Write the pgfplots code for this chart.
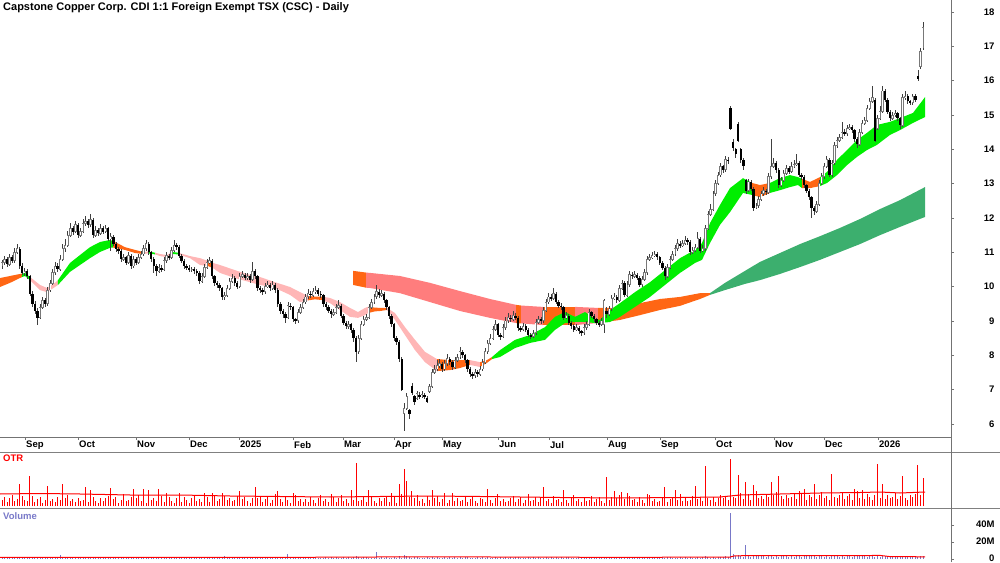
\documentclass[border=0pt]{standalone}
\usepackage{pgfplots}
\pgfplotsset{compat=1.18}
\usepackage{pgfplotstable}
\usepackage{fontspec}
\setmainfont{Liberation Sans}
\definecolor{fgreen}{RGB}{0,238,0}
\definecolor{forange}{RGB}{255,102,20}
\definecolor{fpink}{RGB}{255,182,182}
\definecolor{ssalmon}{RGB}{255,125,125}
\definecolor{sdgreen}{RGB}{60,175,110}
\definecolor{otrred}{RGB}{255,0,0}
\definecolor{volblue}{RGB}{120,120,200}
\definecolor{cgray}{RGB}{120,120,120}
\newcommand\lab{\fontsize{9.5}{10}\selectfont\bfseries}

\pgfplotstableread{
i o h l c t v
0 10.60 10.78 10.52 10.70 6 1.5
1 10.70 10.90 10.64 10.80 9 2.0
2 10.80 10.86 10.58 10.65 4 1.2
3 10.65 10.95 10.60 10.85 8 1.8
4 10.85 10.92 10.68 10.75 11 2.4
5 10.75 11.12 10.70 11.00 5 1.3
6 11.00 11.25 10.95 11.10 7 1.7
7 11.10 11.15 10.52 10.60 22 1.1
8 10.60 10.68 10.34 10.40 10 2.2
9 10.40 10.55 10.30 10.45 6 1.6
10 10.45 10.52 10.22 10.30 5 1.9
11 10.30 10.35 9.72 9.80 30 1.4
12 9.80 9.86 9.40 9.50 10 2.3
13 9.50 9.58 9.20 9.30 4 1.0
14 9.30 9.38 8.88 9.10 7 1.6
15 9.10 9.48 9.05 9.40 9 2.1
16 9.40 9.70 9.35 9.60 3 1.3
17 9.60 9.68 9.42 9.50 6 1.8
18 9.50 10.00 9.45 9.90 20 1.5
19 9.90 10.20 9.85 10.10 5 2.6
20 10.10 10.50 10.05 10.40 7 1.5
21 10.40 10.72 10.35 10.60 4 2.0
22 10.60 10.68 10.42 10.50 9 1.2
23 10.50 10.92 10.45 10.80 6 5.0
24 10.80 11.25 10.75 11.10 22 2.4
25 11.10 11.40 11.02 11.20 8 1.3
26 11.20 11.62 11.15 11.50 11 1.7
27 11.50 11.85 11.45 11.70 5 1.1
28 11.70 11.78 11.50 11.60 7 2.2
29 11.60 11.92 11.55 11.80 4 1.6
30 11.80 11.85 11.42 11.50 8 1.9
31 11.50 11.72 11.44 11.60 5 1.4
32 11.60 11.98 11.55 11.85 6 2.3
33 11.85 12.05 11.78 11.90 19 1.0
34 11.90 11.98 11.72 11.80 4 1.6
35 11.80 12.12 11.75 11.95 16 2.1
36 11.95 12.00 11.42 11.50 9 1.3
37 11.50 11.78 11.45 11.65 5 1.8
38 11.65 11.72 11.48 11.55 3 1.5
39 11.55 11.82 11.50 11.70 8 2.6
40 11.70 11.76 11.52 11.60 5 1.5
41 11.60 11.80 11.55 11.70 8 2.0
42 11.70 11.75 11.32 11.40 10 1.2
43 11.40 11.55 11.05 11.45 18 1.8
44 11.45 11.50 11.18 11.25 7 2.4
45 11.25 11.30 11.02 11.10 9 1.3
46 11.10 11.16 10.95 11.05 3 1.7
47 11.05 11.10 10.72 10.80 6 1.1
48 10.80 10.95 10.74 10.85 12 2.2
49 10.85 10.90 10.62 10.70 5 1.6
50 10.70 11.00 10.65 10.90 6 1.9
51 10.90 10.95 10.52 10.60 9 1.4
52 10.60 10.90 10.55 10.80 17 2.3
53 10.80 10.86 10.62 10.70 8 1.0
54 10.70 10.95 10.65 10.85 11 1.6
55 10.85 11.05 10.80 10.95 5 2.1
56 10.95 11.22 10.90 11.10 17 1.3
57 11.10 11.36 11.05 11.25 3 1.8
58 11.25 11.30 10.92 11.00 16 1.5
59 11.00 11.05 10.72 10.80 6 2.6
60 10.80 10.86 10.40 10.60 8 1.5
61 10.60 10.65 10.30 10.45 5 2.0
62 10.45 10.66 10.40 10.55 17 1.2
63 10.55 10.62 10.42 10.50 10 1.8
64 10.50 10.85 10.45 10.75 4 2.4
65 10.75 11.00 10.70 10.90 13 1.3
66 10.90 10.96 10.78 10.85 9 1.7
67 10.85 11.15 10.80 11.05 5 1.1
68 11.05 11.35 11.00 11.20 3 2.2
69 11.20 11.28 11.08 11.15 8 1.6
70 11.15 11.20 10.82 10.90 13 1.9
71 10.90 10.95 10.68 10.75 4 1.4
72 10.75 10.80 10.52 10.60 9 2.3
73 10.60 10.66 10.48 10.55 6 1.0
74 10.55 10.62 10.44 10.50 3 1.6
75 10.50 10.58 10.42 10.50 8 2.1
76 10.50 10.56 10.38 10.45 11 1.3
77 10.45 10.50 10.30 10.40 5 1.8
78 10.40 10.45 10.08 10.15 7 1.5
79 10.15 10.40 10.10 10.30 4 2.6
80 10.30 10.65 10.25 10.55 13 1.5
81 10.55 10.80 10.50 10.70 9 2.0
82 10.70 10.86 10.66 10.75 4 1.2
83 10.75 10.80 10.22 10.30 13 1.8
84 10.30 10.35 10.02 10.10 11 2.4
85 10.10 10.16 9.96 10.05 5 1.3
86 10.05 10.10 9.88 9.95 7 1.7
87 9.95 10.00 9.60 9.70 13 1.1
88 9.70 9.85 9.62 9.75 10 3.5
89 9.75 10.05 9.70 9.95 6 1.6
90 9.95 10.25 9.90 10.15 8 1.9
91 10.15 10.38 10.10 10.25 5 1.4
92 10.25 10.30 10.02 10.10 6 2.3
93 10.10 10.15 9.92 10.00 10 1.0
94 10.00 10.40 9.95 10.30 15 1.6
95 10.30 10.45 10.25 10.35 7 2.1
96 10.35 10.40 10.18 10.25 9 1.3
97 10.25 10.40 10.20 10.30 5 1.8
98 10.30 10.36 10.12 10.20 3 1.5
99 10.20 10.72 10.15 10.45 8 2.6
100 10.45 10.50 10.22 10.30 19 1.5
101 10.30 10.35 9.88 9.95 8 2.0
102 9.95 10.02 9.82 9.90 10 1.2
103 9.90 9.96 9.76 9.85 4 1.8
104 9.85 10.10 9.80 10.00 7 2.4
105 10.00 10.15 9.95 10.05 9 1.3
106 10.05 10.10 9.88 9.95 3 1.7
107 9.95 10.15 9.90 10.05 6 1.1
108 10.05 10.10 9.82 9.90 12 2.2
109 9.90 9.95 9.42 9.50 15 1.6
110 9.50 9.55 9.20 9.30 7 1.9
111 9.30 9.36 9.10 9.20 4 1.4
112 9.20 9.25 8.95 9.10 9 2.3
113 9.10 9.55 9.05 9.45 6 6.0
114 9.45 9.52 9.32 9.40 3 1.6
115 9.40 9.45 8.98 9.05 13 2.1
116 9.05 9.10 8.92 9.00 11 1.3
117 9.00 9.35 8.95 9.25 5 1.8
118 9.25 9.50 9.20 9.40 7 1.5
119 9.40 9.65 9.35 9.55 4 2.6
120 9.55 9.80 9.50 9.70 7 1.5
121 9.70 9.92 9.65 9.80 4 2.0
122 9.80 9.88 9.68 9.75 9 1.2
123 9.75 9.95 9.70 9.85 6 1.8
124 9.85 10.02 9.80 9.90 3 2.4
125 9.90 9.96 9.72 9.80 8 1.3
126 9.80 9.86 9.68 9.75 11 1.7
127 9.75 9.80 9.42 9.50 5 1.1
128 9.50 9.56 9.32 9.40 7 2.2
129 9.40 9.46 9.22 9.30 4 1.6
130 9.30 9.35 9.10 9.20 12 1.9
131 9.20 9.35 9.15 9.25 9 1.4
132 9.25 9.50 9.20 9.40 4 2.3
133 9.40 9.62 9.35 9.45 8 1.0
134 9.45 9.50 9.08 9.15 11 1.6
135 9.15 9.20 8.88 8.95 5 2.1
136 8.95 9.00 8.76 8.85 7 1.3
137 8.85 9.00 8.78 8.90 3 1.8
138 8.90 8.95 8.65 8.75 16 1.5
139 8.75 8.80 8.40 8.50 6 2.6
140 8.50 8.55 7.80 8.10 43 4.0
141 8.10 8.60 8.05 8.50 5 2.0
142 8.50 9.00 8.45 8.90 6 1.2
143 8.90 9.15 8.85 9.05 10 1.8
144 9.05 9.20 9.00 9.10 4 2.4
145 9.10 9.50 9.05 9.40 16 1.3
146 9.40 9.65 9.35 9.55 9 1.7
147 9.55 9.80 9.50 9.70 5 1.1
148 9.70 10.05 9.65 9.85 3 8.0
149 9.85 9.92 9.68 9.75 8 1.6
150 9.75 9.90 9.70 9.80 5 1.9
151 9.80 9.85 9.52 9.60 8 1.4
152 9.60 9.65 9.32 9.40 10 2.3
153 9.40 9.45 9.05 9.15 4 1.0
154 9.15 9.20 8.82 8.90 13 1.6
155 8.90 8.95 8.42 8.50 9 2.1
156 8.50 8.56 8.30 8.40 3 1.3
157 8.40 8.45 7.80 7.90 22 4.0
158 7.90 7.95 6.95 7.00 12 1.5
159 6.30 6.60 5.80 6.45 37 5.0
160 6.45 6.90 6.40 6.80 25 4.0
161 6.40 6.45 6.15 6.30 9 2.0
162 7.10 7.20 6.85 6.90 15 1.2
163 6.80 6.85 6.55 6.65 8 1.8
164 6.75 6.95 6.70 6.90 11 2.4
165 6.85 6.92 6.72 6.80 5 1.3
166 6.80 6.95 6.75 6.85 7 1.7
167 6.85 6.90 6.72 6.80 3 1.1
168 6.75 6.80 6.60 6.65 10 2.2
169 6.95 7.15 6.90 7.10 6 1.6
170 7.10 7.60 7.05 7.50 16 1.9
171 7.50 7.72 7.45 7.60 8 1.4
172 7.60 7.85 7.55 7.70 10 2.3
173 7.70 7.90 7.62 7.75 4 1.0
174 7.75 7.80 7.52 7.60 7 1.6
175 7.60 7.85 7.55 7.75 13 2.1
176 7.75 8.05 7.70 7.90 3 1.3
177 7.90 7.95 7.72 7.80 6 1.8
178 7.80 7.85 7.58 7.65 13 1.5
179 7.65 7.95 7.60 7.85 5 2.6
180 7.85 8.05 7.80 7.95 8 1.5
181 7.95 8.25 7.90 8.10 5 2.0
182 8.10 8.15 7.92 8.00 6 1.2
183 8.00 8.05 7.78 7.85 10 1.8
184 7.85 7.90 7.52 7.60 4 2.4
185 7.60 7.65 7.38 7.45 7 1.3
186 7.45 7.52 7.32 7.40 9 1.7
187 7.40 7.60 7.35 7.50 5 1.1
188 7.50 7.56 7.38 7.45 3 2.2
189 7.45 7.70 7.40 7.60 8 1.6
190 7.60 7.90 7.55 7.80 7 1.9
191 7.80 8.20 7.75 8.10 4 1.4
192 8.10 8.45 8.05 8.35 17 2.3
193 8.35 8.62 8.30 8.50 6 1.0
194 8.50 8.85 8.45 8.75 3 1.6
195 8.75 9.02 8.70 8.90 8 2.1
196 8.90 8.95 8.52 8.60 12 1.3
197 8.60 8.66 8.46 8.55 5 1.8
198 8.55 8.90 8.50 8.80 7 1.5
199 8.80 9.12 8.75 9.00 4 2.6
200 9.00 9.22 8.95 9.10 5 1.5
201 9.10 9.16 8.98 9.05 8 2.0
202 9.05 9.28 9.00 9.15 10 1.2
203 9.15 9.22 9.02 9.10 4 1.8
204 9.10 9.15 8.72 8.80 7 2.4
205 8.80 8.86 8.68 8.75 9 1.3
206 8.75 8.95 8.70 8.85 3 1.7
207 8.85 8.90 8.68 8.75 6 1.1
208 8.75 8.80 8.52 8.60 12 2.2
209 8.60 8.66 8.48 8.55 5 1.6
210 8.55 8.75 8.50 8.65 6 1.9
211 8.65 9.05 8.60 8.95 9 1.4
212 8.95 9.15 8.90 9.05 4 2.3
213 9.05 9.12 8.92 9.00 8 1.0
214 9.00 9.42 8.95 9.30 19 1.6
215 9.30 9.65 9.25 9.55 5 2.1
216 9.55 9.82 9.50 9.70 7 1.3
217 9.70 9.78 9.58 9.65 3 1.8
218 9.65 9.95 9.60 9.80 10 1.5
219 9.80 9.85 9.48 9.55 6 2.6
220 9.55 9.60 9.38 9.45 7 1.5
221 9.45 9.52 9.32 9.40 4 2.0
222 9.40 9.45 9.02 9.10 16 1.2
223 9.10 9.25 9.05 9.15 6 1.8
224 9.15 9.20 8.88 8.95 3 2.4
225 8.95 9.00 8.78 8.85 8 1.3
226 8.85 8.90 8.68 8.75 11 1.7
227 8.75 8.90 8.70 8.80 5 1.1
228 8.80 8.85 8.62 8.70 7 2.2
229 8.70 8.75 8.55 8.65 4 1.6
230 8.65 8.90 8.60 8.80 8 1.9
231 8.80 9.00 8.75 8.90 5 1.4
232 8.90 9.35 8.85 9.25 6 2.3
233 9.25 9.30 9.08 9.15 10 1.0
234 9.15 9.20 8.98 9.05 4 1.6
235 9.05 9.10 8.88 8.95 7 2.1
236 8.95 9.00 8.82 8.90 9 1.3
237 8.90 9.10 8.85 9.00 5 1.8
238 8.90 9.65 8.65 9.60 3 1.5
239 9.30 9.40 9.10 9.20 29 2.6
240 9.20 9.45 9.15 9.35 6 1.5
241 9.35 9.75 9.30 9.65 9 2.0
242 9.65 9.82 9.60 9.70 15 1.2
243 9.70 9.75 9.52 9.60 8 1.8
244 9.60 10.05 9.55 9.95 11 2.4
245 9.95 10.20 9.90 10.10 14 1.3
246 10.10 10.15 9.70 9.75 7 1.7
247 9.75 10.15 9.70 10.05 13 1.1
248 10.05 10.45 10.00 10.35 10 2.2
249 10.35 10.42 10.22 10.30 6 1.6
250 10.30 10.45 10.25 10.35 7 1.9
251 10.35 10.40 10.18 10.25 4 1.4
252 10.25 10.30 9.98 10.05 9 2.3
253 10.05 10.30 10.00 10.20 6 1.0
254 10.20 10.50 10.15 10.40 3 1.6
255 10.40 10.90 10.35 10.80 12 2.1
256 10.80 10.95 10.75 10.85 11 1.3
257 10.85 11.00 10.80 10.90 5 1.8
258 10.90 11.05 10.85 10.95 7 1.5
259 10.95 11.00 10.78 10.85 4 2.6
260 10.85 10.90 10.62 10.70 5 1.5
261 10.70 10.75 10.48 10.55 8 2.0
262 10.55 10.60 10.20 10.30 19 1.2
263 10.30 10.65 10.25 10.55 4 1.8
264 10.55 10.90 10.50 10.80 7 2.4
265 10.80 11.05 10.75 10.95 9 1.3
266 10.95 11.22 10.90 11.10 16 1.7
267 11.10 11.38 11.05 11.25 6 1.1
268 11.25 11.32 11.12 11.20 12 2.2
269 11.20 11.35 11.15 11.25 5 1.6
270 11.25 11.48 11.20 11.35 8 1.9
271 11.35 11.42 11.22 11.30 5 1.4
272 11.30 11.35 10.92 11.00 6 2.3
273 11.00 11.15 10.95 11.05 10 1.0
274 11.05 11.25 11.00 11.15 20 1.6
275 11.15 11.60 11.10 11.40 7 2.1
276 11.40 11.45 10.98 11.05 9 1.3
277 11.05 11.20 11.00 11.10 5 1.8
278 11.10 11.80 11.05 11.70 40 4.0
279 11.70 12.20 11.65 12.10 8 2.6
280 12.10 12.40 12.05 12.25 6 1.5
281 12.25 12.80 12.20 12.70 9 2.0
282 12.70 13.10 12.65 13.00 4 1.2
283 13.00 13.35 12.95 13.25 8 1.8
284 13.25 13.60 13.20 13.50 11 2.4
285 13.50 13.55 13.32 13.40 8 2.8
286 13.40 13.80 13.35 13.70 10 3.2
287 13.70 13.78 13.58 13.65 6 2.6
288 15.20 15.25 14.55 14.60 47 54
289 14.20 14.30 13.95 14.05 9 6.0
290 14.00 14.05 13.75 13.85 8 3.4
291 14.75 14.80 14.20 14.25 31 5.0
292 14.00 14.05 13.60 13.70 13 3.8
293 13.70 13.75 13.40 13.50 7 2.5
294 13.10 13.15 12.70 12.80 24 16
295 12.80 13.15 12.75 13.05 12 3.6
296 13.05 13.10 12.78 12.85 6 2.8
297 12.85 12.90 12.20 12.30 21 3.3
298 12.30 12.45 12.25 12.35 15 3.0
299 12.35 12.65 12.30 12.55 8 4.1
300 12.55 12.80 12.50 12.70 10 3.0
301 12.70 12.90 12.65 12.80 7 3.5
302 12.80 12.85 12.68 12.75 12 2.7
303 12.75 13.30 12.70 13.20 9 3.3
304 13.20 14.30 13.15 13.50 24 3.9
305 13.50 13.75 13.45 13.60 11 2.8
306 13.60 13.65 13.32 13.40 14 3.2
307 13.40 13.45 12.88 12.95 30 2.6
308 12.95 13.20 12.90 13.10 10 3.7
309 13.10 13.40 13.05 13.30 7 3.1
310 13.30 13.55 13.25 13.45 11 3.4
311 13.45 13.50 13.28 13.35 8 2.9
312 13.35 13.62 13.30 13.50 9 3.8
313 13.50 13.68 13.45 13.55 13 2.5
314 13.55 13.85 13.50 13.60 7 3.1
315 13.60 13.65 13.18 13.25 15 3.6
316 13.25 13.30 13.12 13.20 12 2.8
317 13.20 13.25 12.88 12.95 17 3.3
318 12.95 13.00 12.72 12.80 6 3.0
319 12.80 12.85 12.52 12.60 11 4.1
320 12.60 12.65 12.00 12.30 9 3.0
321 12.30 12.35 12.10 12.20 22 3.5
322 12.20 12.50 12.15 12.40 7 2.7
323 12.40 13.10 12.35 13.00 11 3.3
324 13.00 13.30 12.95 13.20 14 3.9
325 13.20 13.60 13.15 13.50 8 2.8
326 13.50 13.80 13.45 13.70 10 3.2
327 13.70 13.75 13.18 13.25 6 2.6
328 13.25 13.70 13.20 13.60 32 3.7
329 13.60 14.20 13.55 14.10 9 3.1
330 14.10 14.35 14.05 14.25 8 3.4
331 14.25 14.45 14.20 14.35 11 2.9
332 14.35 14.80 14.30 14.50 13 3.8
333 14.50 14.58 14.38 14.45 7 2.5
334 14.45 14.70 14.40 14.60 10 3.1
335 14.60 14.75 14.55 14.65 12 3.6
336 14.65 14.70 14.48 14.55 6 2.8
337 14.55 14.60 14.22 14.30 17 3.3
338 14.30 14.35 14.05 14.15 15 3.0
339 14.15 14.60 14.10 14.50 8 4.1
340 14.50 14.85 14.45 14.75 16 3.0
341 14.75 14.95 14.70 14.85 7 3.5
342 14.85 15.30 14.80 15.20 12 2.7
343 15.20 15.50 15.15 15.40 9 3.3
344 15.40 15.85 15.35 15.50 6 3.9
345 15.45 15.50 14.20 14.25 11 2.8
346 14.60 15.00 14.55 14.90 42 5.0
347 14.90 15.25 14.85 15.10 8 2.6
348 15.10 15.85 15.05 15.70 22 3.7
349 15.70 15.75 15.38 15.45 7 3.1
350 15.45 15.50 15.02 15.10 11 3.4
351 15.10 15.15 14.82 14.90 8 2.9
352 14.90 15.10 14.85 15.00 9 3.8
353 15.00 15.15 14.95 15.05 13 2.5
354 15.05 15.10 14.82 14.90 7 3.1
355 14.90 14.95 14.60 14.70 10 3.6
356 14.70 15.60 14.65 15.50 30 2.8
357 15.50 15.70 15.45 15.55 8 3.3
358 15.55 15.60 15.32 15.40 6 3.0
359 15.40 15.45 15.28 15.35 11 4.1
360 15.35 15.62 15.30 15.55 9 3.0
361 15.55 15.60 15.38 15.45 12 3.5
362 16.15 16.30 16.00 16.05 41 2.7
363 16.40 16.95 16.35 16.85 11 3.3
364 16.95 17.70 16.90 17.55 28 3.9
}\candles

\pgfplotsset{
  band/.style={fill=#1, draw=none, forget plot},
  cbar/.style={draw=none, mark=none, forget plot,
    error bars/y dir=both, error bars/y explicit, error bars/error mark=none},
}

\begin{document}
\begin{tikzpicture}[x=1pt,y=1pt]
\useasboundingbox (0pt,0pt) rectangle (1000pt,562pt);

% ---------- price panel ----------
\begin{axis}[at={(0pt,125pt)}, anchor=south west, scale only axis,
  width=951pt, height=437pt,
  xmin=0, xmax=951, ymin=5.62, ymax=18.35,
  axis x line*=bottom, axis y line*=right,
  axis line style={draw=black!55, line width=0.8pt},
  xtick={25,78,136,189,239,293,343,394,442,498,549,607,660,715,774,824,878},
  xticklabels={Sep,Oct,Nov,Dec,2025,Feb,Mar,Apr,May,Jun,Jul,Aug,Sep,Oct,Nov,Dec,2026},
  xticklabel style={anchor=north west, inner sep=1pt, font=\lab},
  ytick={6,7,8,9,10,11,12,13,14,15,16,17,18},
  yticklabels={6,7,8,9,10,11,12,13,14,15,16,17,18},
  yticklabel style={anchor=east, xshift=44pt, font=\lab},
  tick align=outside, major tick length=3pt,
  tick style={draw=black!55, line width=0.6pt},
]
% slow ribbon (long-term band)
\addplot[band=forange] coordinates {(353,10.46)(366,10.41)(366,9.97)(353,10.05)};
\addplot[band=ssalmon] coordinates {(366,10.41)(370,10.40)(400,10.31)(430,10.11)(460,9.87)(490,9.64)(516,9.47)
  (516,8.94)(490,9.09)(460,9.29)(430,9.55)(400,9.81)(370,9.96)(366,9.97)};
\addplot[band=forange] coordinates {(516,9.47)(521,9.45)(521,8.93)(516,8.94)};
\addplot[band=ssalmon] coordinates {(521,9.45)(543,9.41)(543,8.88)(521,8.93)};
\addplot[band=forange] coordinates {(543,9.41)(575,9.41)(575,8.88)(543,8.88)};
\addplot[band=ssalmon] coordinates {(575,9.41)(598,9.38)(598,8.94)(575,8.88)};
\addplot[band=forange] coordinates {(598,9.38)(620,9.38)(640,9.52)(660,9.64)(680,9.70)(700,9.81)(710,9.81)
  (710,9.76)(700,9.64)(680,9.44)(660,9.32)(640,9.17)(620,9.03)(598,8.94)};
\addplot[band=sdgreen] coordinates {(710,9.81)(725,10.11)(745,10.46)(760,10.72)(780,10.98)(800,11.24)(820,11.47)
  (840,11.71)(860,11.97)(880,12.26)(900,12.52)(925,12.90)
  (925,12.03)(900,11.74)(880,11.50)(860,11.24)(840,11.01)(820,10.78)(800,10.57)(780,10.37)(760,10.19)
  (745,10.08)(725,9.90)(710,9.76)};
% fast ribbon (short-term band)
\addplot[band=forange] coordinates {(0,10.25)(10,10.31)(22,10.38)(22,10.28)(10,10.11)(0,9.99)};
\addplot[band=fgreen] coordinates {(22,10.38)(25,10.40)(30,10.28)(30,10.19)(25,10.31)(22,10.28)};
\addplot[band=fpink] coordinates {(30,10.28)(40,10.05)(47,9.96)(55,10.11)(58,10.19)(58,10.05)(55,9.99)(47,9.84)(40,9.90)(30,10.19)};
\addplot[band=fgreen] coordinates {(58,10.19)(70,10.69)(80,10.92)(90,11.15)(100,11.30)(110,11.36)(113,11.33)
  (113,11.14)(110,11.13)(100,11.01)(90,10.83)(80,10.63)(70,10.43)(58,10.05)};
\addplot[band=forange] coordinates {(113,11.33)(125,11.15)(135,11.07)(143,11.01)(143,10.95)(135,10.98)(125,11.07)(113,11.14)};
\addplot[band=fpink] coordinates {(143,11.01)(148,11.02)(148,10.97)(143,10.95)};
\addplot[band=fgreen] coordinates {(148,11.02)(155,10.99)(155,10.94)(148,10.97)};
\addplot[band=fpink] coordinates {(155,10.99)(160,10.95)(167,10.92)(172,11.01)(172,10.95)(167,10.86)(160,10.89)(155,10.94)};
\addplot[band=fgreen] coordinates {(172,11.01)(178,10.99)(178,10.94)(172,10.95)};
\addplot[band=fpink] coordinates {(178,10.99)(190,10.89)(200,10.83)(208,10.75)(208,10.60)(200,10.63)(190,10.83)(178,10.94)};
\addplot[band=forange] coordinates {(208,10.75)(213,10.69)(213,10.54)(208,10.60)};
\addplot[band=fpink] coordinates {(213,10.69)(220,10.63)(235,10.48)(250,10.34)(260,10.28)(275,10.13)(290,9.99)(300,9.84)(308,9.73)
  (308,9.60)(300,9.55)(290,9.76)(275,9.96)(260,10.05)(250,10.13)(235,10.25)(220,10.40)(213,10.54)};
\addplot[band=forange] coordinates {(308,9.73)(315,9.71)(322,9.71)(322,9.61)(315,9.63)(308,9.60)};
\addplot[band=fpink] coordinates {(322,9.71)(330,9.67)(340,9.55)(350,9.38)(358,9.26)(365,9.38)(368,9.41)
  (368,9.23)(365,9.17)(358,9.09)(350,9.12)(340,9.32)(330,9.52)(322,9.61)};
\addplot[band=forange] coordinates {(368,9.41)(375,9.39)(380,9.38)(387,9.38)(387,9.32)(380,9.29)(375,9.28)(368,9.23)};
\addplot[band=fpink] coordinates {(387,9.38)(395,9.23)(405,8.82)(415,8.45)(425,8.10)(437,7.89)
  (437,7.54)(425,7.80)(415,8.15)(405,8.59)(395,9.03)(387,9.32)};
\addplot[band=forange] coordinates {(437,7.89)(450,7.86)(460,7.86)(470,7.86)(470,7.72)(460,7.63)(450,7.57)(437,7.54)};
\addplot[band=fpink] coordinates {(470,7.86)(480,7.80)(480,7.66)(470,7.72)};
\addplot[band=forange] coordinates {(480,7.80)(487,7.86)(492,7.95)(492,7.89)(487,7.78)(480,7.66)};
\addplot[band=fgreen] coordinates {(492,7.95)(500,8.15)(515,8.45)(530,8.59)(545,8.82)(555,9.12)(565,9.26)(575,9.12)
  (585,9.26)(595,9.06)(600,9.03)(610,9.32)(620,9.52)(635,9.84)(650,10.13)(665,10.48)(680,10.83)(695,11.07)
  (702,11.27)(710,11.85)(720,12.38)(730,12.87)(743,13.16)(752,13.02)
  (752,12.67)(743,12.73)(730,12.17)(720,11.80)(710,11.27)(702,10.78)(695,10.69)(680,10.40)(665,10.05)
  (650,9.70)(635,9.41)(620,9.12)(610,8.97)(600,8.94)(595,8.94)(585,8.97)(575,8.97)(565,8.94)(555,8.74)
  (545,8.45)(530,8.36)(515,8.21)(500,7.95)(492,7.89)};
\addplot[band=forange] coordinates {(752,13.02)(760,12.96)(770,13.02)(770,12.73)(760,12.61)(752,12.67)};
\addplot[band=fgreen] coordinates {(770,13.02)(780,13.16)(790,13.25)(798,13.19)(802,13.14)
  (802,12.87)(798,12.96)(790,12.90)(780,12.81)(770,12.73)};
\addplot[band=forange] coordinates {(802,13.14)(810,13.05)(820,13.19)(820,12.93)(810,12.87)(802,12.87)};
\addplot[band=fgreen] coordinates {(820,13.19)(827,13.34)(837,13.69)(847,13.98)(857,14.27)(867,14.48)(877,14.71)
  (890,14.80)(900,14.91)(913,15.06)(925,15.52)
  (925,14.94)(913,14.77)(900,14.56)(890,14.42)(877,14.13)(867,13.98)(857,13.78)(847,13.54)(837,13.25)
  (827,13.02)(820,12.93)};
% wicks
\addplot[cbar, error bars/error bar style={draw=black!75, line width=0.65pt}]
  table[x expr={2+2.53*\thisrow{i}}, y expr={(\thisrow{h}+\thisrow{l})/2},
        y error expr={(\thisrow{h}-\thisrow{l})/2}]{\candles};
% down bodies (black)
\addplot[cbar, restrict y to domain=0:100, error bars/error bar style={draw=black, line width=2.4pt}]
  table[x expr={2+2.53*\thisrow{i}},
        y expr={ifthenelse(\thisrow{c}<\thisrow{o},(\thisrow{o}+\thisrow{c})/2,-100)},
        y error expr={max(abs(\thisrow{o}-\thisrow{c})/2,0.015)}]{\candles};
% up bodies (hollow)
\addplot[cbar, restrict y to domain=0:100, error bars/error bar style={draw=cgray, line width=2.4pt}]
  table[x expr={2+2.53*\thisrow{i}},
        y expr={ifthenelse(\thisrow{c}<\thisrow{o},-100,(\thisrow{o}+\thisrow{c})/2)},
        y error expr={max(abs(\thisrow{o}-\thisrow{c})/2,0.015)+0.012}]{\candles};
\addplot[cbar, restrict y to domain=0:100, error bars/error bar style={draw=white, line width=1.0pt}]
  table[x expr={2+2.53*\thisrow{i}},
        y expr={ifthenelse(\thisrow{c}<\thisrow{o},-100,(\thisrow{o}+\thisrow{c})/2)},
        y error expr={max(abs(\thisrow{o}-\thisrow{c})/2-0.015,0)}]{\candles};
\end{axis}

% ---------- OTR panel ----------
\begin{axis}[at={(0pt,54pt)}, anchor=south west, scale only axis,
  width=951pt, height=56pt, xmin=0, xmax=951, ymin=-2, ymax=54, hide axis]
\addplot[ycomb, draw=otrred, line width=0.8pt, mark=none]
  table[x expr={2+2.53*\thisrow{i}}, y=t]{\candles};
\addplot[otrred, line width=1pt, mark=none] coordinates {
(0,12) (40,12.5) (80,12) (130,11) (180,11) (230,10) (280,9.5) (330,9) (380,9.5)
(430,10) (480,9.5) (520,9) (560,8.5) (620,8) (680,8.5) (720,9) (740,11) (780,12)
(820,13) (860,13.5) (880,14) (900,13) (925,14)};
\end{axis}

% ---------- Volume panel ----------
\begin{axis}[at={(0pt,0pt)}, anchor=south west, scale only axis,
  width=951pt, height=54pt, xmin=0, xmax=951, ymin=-3.53, ymax=60,
  axis x line=none, axis y line*=right,
  axis line style={draw=black!55, line width=0.8pt},
  ytick={0,20,40}, yticklabels={0,20M,40M},
  yticklabel style={anchor=east, xshift=44pt, yshift=1.2pt, font=\lab},
  tick align=outside, major tick length=3pt,
  tick style={draw=black!55, line width=0.6pt}]
\addplot[ycomb, draw=volblue, line width=0.8pt, mark=none]
  table[x expr={2+2.53*\thisrow{i}}, y=v]{\candles};
\addplot[otrred, line width=1pt, mark=none] coordinates {
(0,1.8) (100,1.8) (200,1.8) (300,2.0) (350,2.2) (400,2.5) (450,2.6) (500,2.3)
(600,2.0) (700,2.1) (730,2.3) (735,3.8) (780,4.0) (850,3.9) (880,4.2) (890,2.8) (925,2.6)};
\end{axis}

% ---------- frame, separators, labels ----------
\draw[black!50, line width=1.2pt] (0pt,109.5pt) -- (1000pt,109.5pt);
\draw[black!50, line width=1pt] (0pt,54pt) -- (1000pt,54pt);
\draw[black!55, line width=0.8pt] (951pt,0pt) -- (951pt,562pt);
\node[anchor=north west, inner sep=0pt, font=\fontsize{11}{12}\selectfont\bfseries] at (3pt,560pt)
  {Capstone Copper Corp. CDI 1:1 Foreign Exempt TSX (CSC) - Daily};
\node[anchor=north west, inner sep=0pt, text=otrred, font=\lab] at (3pt,107pt) {OTR};
\node[anchor=north west, inner sep=0pt, text=volblue, font=\lab] at (3pt,50pt) {Volume};
\end{tikzpicture}
\end{document}
